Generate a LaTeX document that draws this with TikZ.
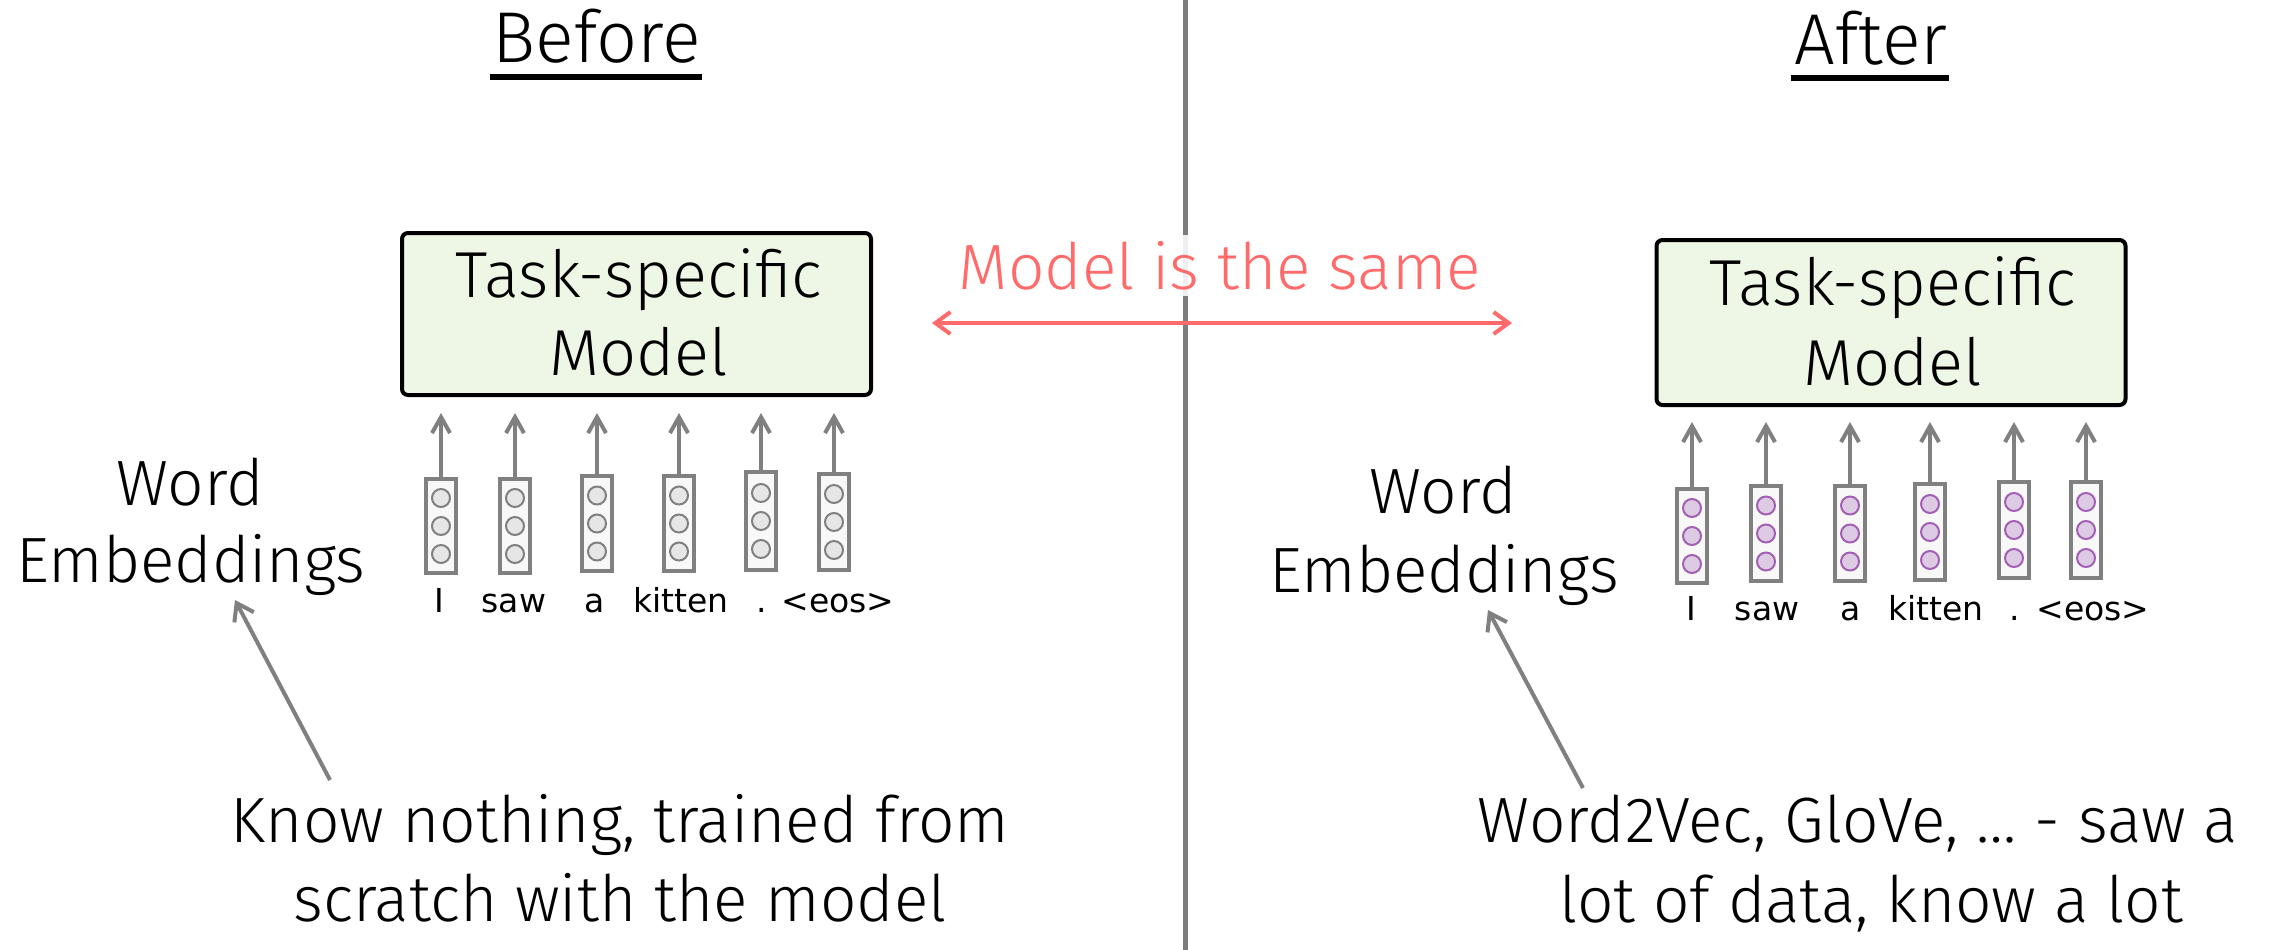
\documentclass[tikz,border=0pt]{standalone}
\usepackage{fontspec}
\setmainfont{Fira Sans Light}
\newfontfamily\wordfont{DejaVu Sans}
\usetikzlibrary{arrows.meta}
\definecolor{boxgreen}{RGB}{238,246,229}
\definecolor{vecgray}{RGB}{128,128,128}
\definecolor{vecfill}{RGB}{248,248,248}
\definecolor{circfill}{RGB}{230,230,230}
\definecolor{purfill}{RGB}{221,203,227}
\definecolor{purline}{RGB}{162,95,180}
\definecolor{samered}{RGB}{255,107,107}
\definecolor{divgray}{RGB}{125,125,125}
\tikzset{
  modelbox/.style={draw=black, line width=4pt, rounded corners=6pt, fill=boxgreen, inner sep=0pt, minimum width=469pt, minimum height=162pt},
  boxtext/.style={font=\fontsize{65}{78}\selectfont, inner sep=0pt, anchor=base},
  titletext/.style={font=\fontsize{72}{80}\selectfont, inner sep=0pt, anchor=base},
  uline/.style={line width=5pt, black},
  embtext/.style={font=\fontsize{64}{70}\selectfont, inner sep=0pt, anchor=base},
  bottext/.style={font=\fontsize{64}{76}\selectfont, inner sep=0pt, anchor=base},
  sametext/.style={font=\fontsize{64}{76}\selectfont, text=samered, fill=white, fill opacity=0.88, text opacity=1, inner xsep=2pt, inner ysep=6pt, anchor=base},
  samearrow/.style={samered, line width=4pt, {Straight Barb[length=15pt,width=22pt]}-{Straight Barb[length=15pt,width=22pt]}},
  divider/.style={divgray, line width=5pt},
  vecbox/.style={draw=vecgray, line width=4pt, fill=vecfill, inner sep=0pt, minimum width=30pt},
  gcirc/.style={circle, draw=vecgray, line width=2pt, fill=circfill, inner sep=0pt, minimum size=18pt},
  pcirc/.style={circle, draw=purline, line width=2pt, fill=purfill, inner sep=0pt, minimum size=18pt},
  smallarrow/.style={vecgray, line width=4pt, -{Straight Barb[length=16pt,width=18pt]}},
  bigarrow/.style={vecgray, line width=4pt, -{Straight Barb[length=16pt,width=22pt]}},
  wordlab/.style={font=\wordfont\fontsize{33}{38}\selectfont, inner sep=0pt, anchor=base},
}
\begin{document}
\begin{tikzpicture}[x=1pt,y=-1pt]
\useasboundingbox[fill=white] (0,0) rectangle (2275,950);

% divider
\coordinate (divtop) at (1185,0);
\coordinate (divbot) at (1185,950);
\draw[divider] (divtop) -- (divbot);

% titles
\node[titletext] (before) at (597,63) {Before};
\draw[uline] ([xshift=-3pt,yshift=-14pt]before.base west) -- ([xshift=1pt,yshift=-14pt]before.base east);
\node[titletext] (after) at (1871,64) {After};
\draw[uline] ([xshift=-3pt,yshift=-14pt]after.base west) -- ([xshift=1pt,yshift=-14pt]after.base east);

% model boxes
\node[modelbox] (lbox) at (636.5,314) {};
\node[boxtext] (ltask) at (639,297) {Task-specific};
\node[boxtext] (lmodel) at (639,375) {Model};
\node[modelbox, minimum height=165pt] (rbox) at (1891,322.5) {};
\node[boxtext] (rtask) at (1893,305) {Task-specific};
\node[boxtext] (rmodel) at (1893,385) {Model};

% model is the same
\node[sametext] (same) at (1220,289) {Model is the same};
\coordinate (sameL) at (932,323);
\coordinate (sameR) at (1512,323);
\draw[samearrow] (sameL) -- (sameR);

% left word vectors
\foreach \i/\x/\t/\b/\lx/\w in {1/441/477/575/439/I, 2/515/477/575/514/saw, 3/597/474/573/595/a, 4/679/474/573/681/kitten, 5/761/470/572/762/., 6/834/472/572/838/<eos>}{
  \node[vecbox, minimum height={\b-\t-4}] (lv\i) at (\x,{(\t+\b)/2}) {};
  \node[gcirc] (lv\i a) at (\x,{(\t+\b)/2-28}) {};
  \node[gcirc] (lv\i b) at (\x,{(\t+\b)/2}) {};
  \node[gcirc] (lv\i c) at (\x,{(\t+\b)/2+28}) {};
  \coordinate (lt\i) at (\x,413);
  \draw[smallarrow] (lv\i.north) -- (lt\i);
  \node[wordlab] (lw\i) at (\lx,612) {\w};
}

% right word vectors
\foreach \i/\x/\t/\b/\lx/\w in {1/1692/487/585/1691/I, 2/1766/484/583/1767/saw, 3/1850/484/583/1851/a, 4/1930/482/582/1936/kitten, 5/2014/480/580/2015/., 6/2086/480/580/2093/<eos>}{
  \node[vecbox, minimum height={\b-\t-4}] (rv\i) at (\x,{(\t+\b)/2}) {};
  \node[pcirc] (rv\i a) at (\x,{(\t+\b)/2-28}) {};
  \node[pcirc] (rv\i b) at (\x,{(\t+\b)/2}) {};
  \node[pcirc] (rv\i c) at (\x,{(\t+\b)/2+28}) {};
  \coordinate (rt\i) at (\x,422);
  \draw[smallarrow] (rv\i.north) -- (rt\i);
  \node[wordlab] (rw\i) at (\lx,620) {\w};
}

% word embeddings labels
\node[embtext] (lword) at (190,505) {Word};
\node[embtext] (lemb) at (191,582) {Embeddings};
\node[embtext] (rword) at (1443,513) {Word};
\node[embtext] (remb) at (1444,592) {Embeddings};

% bottom texts
\node[bottext] (lbot1) at (620,842) {Know nothing, trained from};
\node[bottext] (lbot2) at (620,921) {scratch with the model};
\node[bottext] (rbot1) at (1858,842) {Word2Vec, GloVe, … - saw a};
\node[bottext] (rbot2) at (1871,922) {lot of data, know a lot};

% pointer arrows
\coordinate (lpfrom) at (330,780);
\coordinate (lpto) at (235,600);
\draw[bigarrow] (lpfrom) -- (lpto);
\coordinate (rpfrom) at (1583,788);
\coordinate (rpto) at (1488,610);
\draw[bigarrow] (rpfrom) -- (rpto);
\end{tikzpicture}
\end{document}
